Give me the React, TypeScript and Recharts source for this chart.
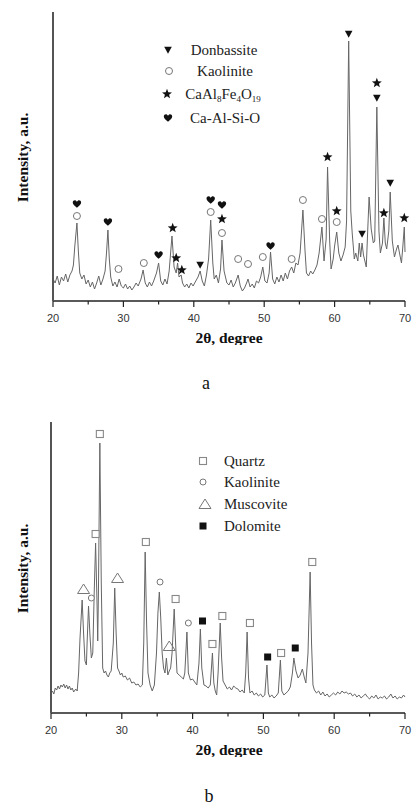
import React from 'react';
import { ComposedChart, Line, Scatter, XAxis, YAxis } from 'recharts';

const TICKS = [20, 25, 30, 35, 40, 45, 50, 55, 60, 65, 70];

// Panel a: 2θ vs intensity (a.u.)
const traceA: [number, number][] = [
  [20.0, 22], [20.3, 18], [20.6, 25], [20.9, 16], [21.2, 24], [21.5, 20], [21.8, 27], [22.1, 19], [22.4, 26], [22.7, 30],
  [22.9, 36], [23.1, 55], [23.4, 78], [23.6, 50], [23.8, 28], [24.1, 22], [24.4, 26], [24.7, 17], [25.0, 21], [25.3, 14],
  [25.6, 19], [25.9, 12], [26.2, 18], [26.5, 25], [26.8, 16], [27.1, 22], [27.4, 30], [27.6, 48], [27.8, 71], [28.0, 42],
  [28.2, 24], [28.5, 15], [28.8, 19], [29.1, 14], [29.4, 22], [29.7, 15], [30.0, 13], [30.3, 17], [30.6, 12], [30.9, 15],
  [31.2, 11], [31.5, 14], [31.8, 18], [32.1, 15], [32.5, 22], [32.8, 31], [33.1, 18], [33.4, 14], [33.7, 19], [34.0, 15],
  [34.3, 20], [34.7, 28], [35.0, 38], [35.3, 20], [35.6, 16], [35.9, 22], [36.2, 17], [36.5, 30], [36.9, 65], [37.2, 34],
  [37.5, 28], [37.7, 38], [37.9, 24], [38.2, 26], [38.4, 18], [38.7, 14], [39.0, 17], [39.3, 13], [39.6, 18], [39.9, 15],
  [40.2, 19], [40.6, 24], [40.9, 30], [41.2, 20], [41.5, 15], [41.8, 26], [42.1, 42], [42.4, 81], [42.7, 38], [42.9, 22],
  [43.2, 26], [43.5, 18], [43.8, 32], [44.0, 61], [44.3, 30], [44.7, 18], [45.0, 16], [45.3, 21], [45.6, 14], [45.9, 18],
  [46.3, 26], [46.6, 15], [46.9, 10], [47.2, 13], [47.5, 18], [47.7, 22], [48.0, 14], [48.3, 17], [48.6, 13], [48.9, 20],
  [49.2, 18], [49.5, 24], [49.8, 34], [50.1, 20], [50.4, 18], [50.7, 28], [50.9, 49], [51.2, 22], [51.5, 17], [51.8, 24],
  [52.1, 19], [52.4, 26], [52.7, 20], [53.0, 28], [53.3, 22], [53.6, 30], [53.9, 34], [54.2, 28], [54.5, 38], [54.8, 36],
  [55.1, 48], [55.5, 91], [55.8, 50], [56.0, 28], [56.3, 25], [56.6, 30], [56.9, 27], [57.2, 31], [57.5, 36], [57.8, 48],
  [58.2, 74], [58.5, 40], [58.8, 62], [59.0, 134], [59.3, 60], [59.5, 32], [59.8, 42], [60.0, 55], [60.3, 69], [60.6, 48],
  [60.9, 40], [61.2, 46], [61.5, 54], [61.7, 80], [62.0, 260], [62.3, 90], [62.5, 68], [62.8, 42], [63.0, 48], [63.3, 40],
  [63.5, 58], [63.7, 44], [63.9, 58], [64.1, 46], [64.3, 40], [64.5, 34], [64.7, 70], [64.9, 104], [65.2, 72], [65.5, 58],
  [65.7, 60], [66.0, 194], [66.3, 70], [66.5, 48], [66.8, 58], [67.0, 83], [67.2, 58], [67.4, 52], [67.7, 70], [67.9, 109],
  [68.2, 60], [68.5, 44], [68.8, 52], [69.0, 56], [69.3, 45], [69.5, 38], [69.7, 55], [69.9, 74], [70.0, 49],
];

const donbassiteA: [number, number][] = [[40.9, 36], [62.0, 267], [63.9, 67], [66.0, 203], [67.9, 118]];
const kaoliniteA: [number, number][] = [
  [23.4, 85], [29.3, 32], [32.9, 38], [42.4, 89], [44.0, 68], [46.3, 42], [47.7, 37], [49.8, 44], [53.9, 42], [55.5, 101], [58.2, 82], [60.3, 79],
];
const caAlFeA: [number, number][] = [
  [37.0, 73], [37.5, 43], [38.3, 31], [44.0, 82], [59.0, 144], [60.3, 90], [66.0, 218], [67.0, 88], [69.9, 83],
];
const caAlSiA: [number, number][] = [[23.4, 97], [27.8, 79], [35.0, 46], [42.4, 101], [44.0, 96], [50.9, 55]];

// Panel b
const traceB: [number, number][] = [
  [20.0, 20], [20.2, 22], [20.4, 19], [20.6, 25], [20.8, 23], [21.0, 27], [21.2, 24], [21.4, 28], [21.6, 26], [21.8, 29],
  [22.0, 25], [22.2, 28], [22.4, 24], [22.6, 27], [22.8, 23], [23.0, 25], [23.2, 21], [23.5, 24], [23.7, 22], [23.9, 40],
  [24.1, 75], [24.4, 113], [24.6, 80], [24.8, 52], [25.0, 48], [25.1, 70], [25.3, 107], [25.5, 78], [25.7, 55], [25.9, 60],
  [26.1, 120], [26.3, 170], [26.5, 110], [26.6, 72], [26.7, 120], [26.9, 270], [27.1, 130], [27.3, 45], [27.5, 40], [27.7, 42],
  [27.9, 38], [28.1, 36], [28.3, 40], [28.5, 42], [28.8, 70], [29.0, 125], [29.2, 80], [29.4, 45], [29.6, 42], [29.8, 38],
  [30.0, 40], [30.2, 36], [30.5, 37], [30.8, 33], [31.1, 35], [31.4, 30], [31.7, 31], [32.0, 28], [32.3, 29], [32.6, 26],
  [32.9, 28], [33.1, 70], [33.3, 161], [33.5, 90], [33.7, 40], [34.0, 28], [34.3, 22], [34.6, 28], [34.9, 60], [35.1, 100],
  [35.3, 121], [35.5, 95], [35.7, 60], [35.9, 45], [36.1, 40], [36.3, 55], [36.5, 38], [36.7, 42], [36.9, 45], [37.1, 60],
  [37.4, 104], [37.6, 70], [37.8, 40], [38.1, 38], [38.4, 36], [38.7, 34], [38.9, 40], [39.2, 81], [39.4, 40], [39.7, 33],
  [40.0, 34], [40.3, 31], [40.6, 28], [40.9, 50], [41.1, 84], [41.3, 45], [41.6, 28], [41.9, 27], [42.2, 25], [42.5, 28],
  [42.8, 60], [43.0, 30], [43.2, 22], [43.4, 18], [43.6, 40], [43.9, 90], [44.1, 55], [44.3, 32], [44.6, 28], [44.9, 24],
  [45.2, 26], [45.5, 23], [45.8, 27], [46.1, 25], [46.4, 24], [46.7, 21], [47.0, 23], [47.3, 20], [47.5, 40], [47.7, 81],
  [47.9, 35], [48.1, 20], [48.4, 22], [48.7, 18], [49.0, 20], [49.3, 17], [49.6, 19], [49.9, 16], [50.2, 18], [50.5, 48],
  [50.7, 20], [50.9, 16], [51.2, 18], [51.5, 15], [51.8, 17], [52.1, 20], [52.4, 53], [52.6, 22], [52.9, 18], [53.2, 20],
  [53.5, 22], [53.8, 26], [54.1, 40], [54.3, 55], [54.6, 42], [54.9, 35], [55.2, 38], [55.5, 44], [55.8, 35], [56.0, 30],
  [56.3, 60], [56.6, 141], [56.8, 70], [57.0, 28], [57.2, 23], [57.5, 20], [57.8, 22], [58.1, 18], [58.4, 21], [58.7, 17],
  [59.0, 19], [59.3, 16], [59.6, 18], [59.9, 20], [60.2, 18], [60.5, 21], [60.8, 19], [61.1, 22], [61.4, 20], [61.7, 21],
  [62.0, 19], [62.3, 20], [62.6, 17], [62.9, 19], [63.2, 16], [63.5, 18], [63.8, 15], [64.1, 17], [64.4, 19], [64.7, 16],
  [65.0, 14], [65.3, 17], [65.6, 15], [65.9, 18], [66.2, 14], [66.5, 16], [66.8, 15], [67.1, 17], [67.4, 14], [67.7, 16],
  [68.0, 19], [68.3, 15], [68.6, 17], [68.9, 14], [69.2, 16], [69.5, 15], [69.8, 18], [70.0, 16],
];

const quartzB: [number, number][] = [
  [26.3, 179], [26.9, 279], [33.4, 171], [37.6, 114], [42.8, 69], [44.2, 97], [48.1, 90], [52.5, 60], [56.9, 151],
];
const kaoliniteB: [number, number][] = [[25.7, 115], [35.4, 131], [39.4, 90]];
const muscoviteB: [number, number][] = [[24.6, 124], [29.4, 135], [36.7, 67]];
const dolomiteB: [number, number][] = [[41.4, 92], [50.6, 56], [54.5, 65]];

const toXY = (arr: [number, number][]) => arr.map(([x, y]) => ({ x, y }));

const SERIF = '"Liberation Serif", "Times New Roman", serif';
const SANS = '"Liberation Sans", Arial, sans-serif';

// ---------- marker glyphs ----------
const DownTri = ({ cx, cy }: any) => (
  <polygon points={`${cx - 3.8},${cy - 3.2} ${cx + 3.8},${cy - 3.2} ${cx},${cy + 3.8}`} fill="#111" />
);
const OpenCircle = ({ cx, cy, r = 3.5, stroke = '#777' }: any) => (
  <circle cx={cx} cy={cy} r={r} fill="#fff" stroke={stroke} strokeWidth={1} />
);
const Star = ({ cx, cy }: any) => {
  const pts: string[] = [];
  for (let i = 0; i < 10; i++) {
    const r = i % 2 === 0 ? 5.2 : 2.2;
    const a = -Math.PI / 2 + (i * Math.PI) / 5;
    pts.push(`${cx + r * Math.cos(a)},${cy + r * Math.sin(a)}`);
  }
  return <polygon points={pts.join(' ')} fill="#111" />;
};
const Heart = ({ cx, cy }: any) => (
  <path
    transform={`translate(${cx},${cy})`}
    d="M0,3.8 C-2.5,1.6 -4.2,0 -4.2,-1.6 C-4.2,-3.4 -2.4,-4.2 -1.2,-3.6 C-0.5,-3.2 0,-2.6 0,-2 C0,-2.6 0.5,-3.2 1.2,-3.6 C2.4,-4.2 4.2,-3.4 4.2,-1.6 C4.2,0 2.5,1.6 0,3.8 Z"
    fill="#111"
  />
);
const OpenSquare = ({ cx, cy }: any) => (
  <rect x={cx - 3.5} y={cy - 3.5} width={7} height={7} fill="#fff" stroke="#888" strokeWidth={1.1} />
);
const OpenTri = ({ cx, cy }: any) => (
  <polygon points={`${cx - 6},${cy + 4.5} ${cx + 6},${cy + 4.5} ${cx},${cy - 5}`} fill="none" stroke="#777" strokeWidth={1} />
);
const FilledSquare = ({ cx, cy }: any) => (
  <rect x={cx - 3.5} y={cy - 3.5} width={7} height={7} fill="#111" />
);
const SmallCircle = (p: any) => <OpenCircle {...p} r={3} />;

// ---------- axis pieces ----------
const XTick = (props: any) => {
  const { x, y, payload } = props;
  const major = payload.value % 10 === 0;
  return (
    <g>
      <line x1={x} x2={x} y1={y} y2={y + (major ? 6 : 3.5)} stroke="#222" strokeWidth={1.2} />
      {major && (
        <text x={x} y={y + 21} textAnchor="middle" fontSize={11} fill="#333" fontFamily={SANS}>
          {payload.value}
        </text>
      )}
    </g>
  );
};

const W = 412;
const H = 345;

type Series = { data: [number, number][]; Shape: any; name: string };

const Panel = ({
  trace,
  series,
  top,
  left,
  yMax,
  legend,
}: {
  trace: [number, number][];
  series: Series[];
  top: number;
  left: number;
  yMax: number;
  legend: React.ReactNode;
}) => {
  const plotBottom = 301;
  const midY = (top + plotBottom) / 2 + 1;
  return (
    <div style={{ position: 'relative', width: W, height: H }}>
      <ComposedChart
        width={W}
        height={H}
        data={toXY(trace)}
        margin={{ top, right: 7, bottom: 0, left: left - 30 }}
      >
        <XAxis
          dataKey="x"
          type="number"
          domain={[20, 70]}
          ticks={TICKS}
          height={44}
          tickSize={0}
          tickMargin={0}
          tickLine={false}
          tick={<XTick />}
          axisLine={{ stroke: '#222', strokeWidth: 1.3 }}
          interval={0}
          label={{
            content: () => (
              <text x={229} y={343} textAnchor="middle" fontSize={15.5} fontWeight="bold" fontFamily={SERIF} fill="#111">
                2θ, degree
              </text>
            ),
          }}
        />
        <YAxis
          dataKey="y"
          type="number"
          domain={[0, yMax]}
          width={30}
          tick={false}
          tickLine={false}
          axisLine={{ stroke: '#555', strokeWidth: 2 }}
          label={{
            content: () => (
              <text
                x={22}
                y={midY}
                transform={`rotate(-90, 22, ${midY})`}
                textAnchor="middle"
                dominantBaseline="central"
                fontSize={15.5}
                fontWeight="bold"
                fontFamily={SERIF}
                fill="#111"
              >
                Intensity, a.u.
              </text>
            ),
          }}
        />
        <Line
          dataKey="y"
          type="linear"
          stroke="#666"
          strokeWidth={1}
          dot={false}
          activeDot={false}
          isAnimationActive={false}
        />
        {series.map((s) => (
          <Scatter
            key={s.name}
            name={s.name}
            data={toXY(s.data)}
            dataKey="y"
            isAnimationActive={false}
            shape={(p: any) => <s.Shape cx={p.cx} cy={p.cy} />}
          />
        ))}
      </ComposedChart>
      {legend}
    </div>
  );
};

const LegendRow = ({ y, sx, tx, Shape, children, center }: any) => (
  <>
    <svg style={{ position: 'absolute', left: sx - 8, top: y - 8 }} width={16} height={16}>
      <Shape cx={8} cy={8} />
    </svg>
    <div
      style={{
        position: 'absolute',
        left: center ? tx - 50 : tx,
        width: center ? 100 : 120,
        top: y - 10,
        height: 20,
        lineHeight: '20px',
        fontFamily: SERIF,
        fontSize: 15,
        color: '#222',
        textAlign: center ? 'center' : 'left',
        whiteSpace: 'nowrap',
      }}
    >
      {children}
    </div>
  </>
);

const subStyle: React.CSSProperties = { fontSize: 9, verticalAlign: 'baseline', position: 'relative', top: 3, lineHeight: 0 };

export default function App() {
  const seriesA: Series[] = [
    { name: 'Donbassite', data: donbassiteA, Shape: DownTri },
    { name: 'Kaolinite', data: kaoliniteA, Shape: OpenCircle },
    { name: 'CaAl8Fe4O19', data: caAlFeA, Shape: Star },
    { name: 'Ca-Al-Si-O', data: caAlSiA, Shape: Heart },
  ];
  const seriesB: Series[] = [
    { name: 'Quartz', data: quartzB, Shape: OpenSquare },
    { name: 'Kaolinite', data: kaoliniteB, Shape: SmallCircle },
    { name: 'Muscovite', data: muscoviteB, Shape: OpenTri },
    { name: 'Dolomite', data: dolomiteB, Shape: FilledSquare },
  ];

  const legendA = (
    <>
      <LegendRow y={50} sx={168} tx={224} center Shape={DownTri}>Donbassite</LegendRow>
      <LegendRow y={71} sx={169} tx={225} center Shape={OpenCircle}>Kaolinite</LegendRow>
      <LegendRow y={94} sx={167} tx={223} center Shape={Star}>
        CaAl<span style={subStyle}>8</span>Fe<span style={subStyle}>4</span>O<span style={subStyle}>19</span>
      </LegendRow>
      <LegendRow y={118} sx={168} tx={225} center Shape={Heart}>Ca-Al-Si-O</LegendRow>
    </>
  );
  const legendB = (
    <>
      <LegendRow y={49} sx={203} tx={224} Shape={OpenSquare}>Quartz</LegendRow>
      <LegendRow y={70} sx={203} tx={224} Shape={SmallCircle}>Kaolinite</LegendRow>
      <LegendRow y={92} sx={205} tx={224} Shape={OpenTri}>Muscovite</LegendRow>
      <LegendRow y={114} sx={203} tx={224} Shape={FilledSquare}>Dolomite</LegendRow>
    </>
  );

  return (
    <div style={{ position: 'absolute', left: 0, top: 0, width: 412, height: 805, background: '#fff' }}>
      <div style={{ position: 'absolute', left: 0, top: 0 }}>
        <Panel trace={traceA} series={seriesA} top={12} left={53} yMax={289} legend={legendA} />
      </div>
      <div style={{ position: 'absolute', left: 0, top: 372, width: 412, textAlign: 'center', fontFamily: SERIF, fontSize: 18, lineHeight: '22px', color: '#111' }}>
        a
      </div>
      <div style={{ position: 'absolute', left: 0, top: 412 }}>
        <Panel trace={traceB} series={seriesB} top={10} left={51} yMax={291} legend={legendB} />
      </div>
      <div style={{ position: 'absolute', left: 0, top: 785, width: 418, textAlign: 'center', fontFamily: SERIF, fontSize: 18, lineHeight: '22px', color: '#111' }}>
        b
      </div>
    </div>
  );
}
